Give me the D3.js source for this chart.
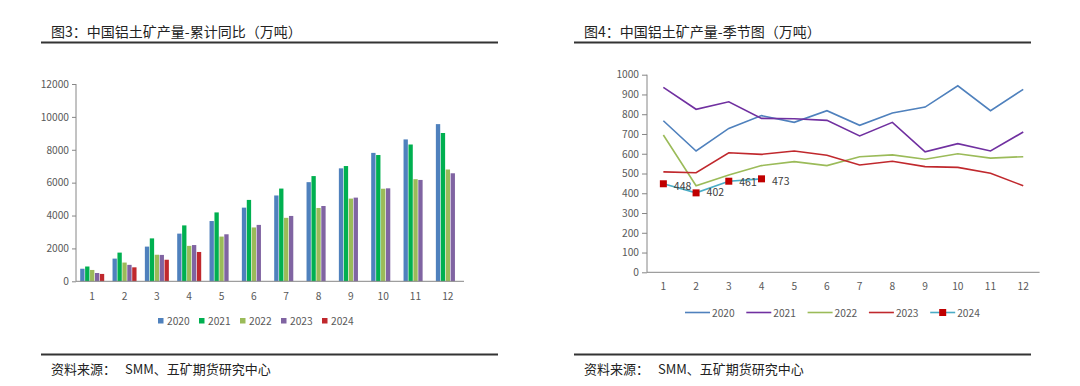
<!DOCTYPE html>
<html><head><meta charset="utf-8">
<script src="https://cdn.jsdelivr.net/npm/d3@7"></script>
<style>body{margin:0;background:#fff}svg{display:block}text{font-family:"Noto Sans CJK SC","Noto Sans",sans-serif}</style>
</head><body><svg id="c" width="1080" height="386"></svg>
<script>
const months = [1,2,3,4,5,6,7,8,9,10,11,12];
const years = ["2020","2021","2022","2023","2024"];
// cumulative (万吨)
const cum2020 = [765,1380,2110,2900,3665,4480,5220,6030,6870,7810,8630,9560];
const cum2021 = [900,1745,2610,3400,4190,4950,5640,6400,7010,7680,8320,9020];
const cum2022 = [690,1140,1615,2155,2720,3275,3860,4460,5030,5630,6210,6800];
const cum2023 = [505,1000,1605,2205,2860,3430,3975,4580,5090,5655,6165,6570];
const cum2024 = [448,850,1311,1784];
// monthly (万吨)
const mon2020 = [767,614,728,793,759,818,744,806,836,944,818,926];
const mon2021 = [936,825,863,779,777,769,690,759,610,651,614,710];
const mon2022 = [695,438,492,540,560,540,585,594,572,600,578,585];
const mon2023 = [508,504,605,597,614,592,543,562,535,531,501,438];
const mon2024 = [448,402,461,473];
const leftTicks = [0,2000,4000,6000,8000,10000,12000];
const rightTicks = [0,100,200,300,400,500,600,700,800,900,1000];

const barColors = ["#4F81BD","#00B050","#9BBB59","#8064A2","#C0282D"];
const lineColors = ["#4F81BD","#7030A0","#9BBB59","#C0282D","#4BACC6"];
const svg = d3.select("#c");
const txt = "#595959";
const numFont = "Liberation Sans, Arial, sans-serif";

// headers & footers
function frame(x0,x1,title,tx){
  svg.append("text").attr("x",tx).attr("y",36.5).attr("font-size",14).attr("fill","#222").text(title);
  svg.append("line").attr("x1",x0).attr("x2",x1).attr("y1",42.5).attr("y2",42.5).attr("stroke","#333").attr("stroke-width",2);
  svg.append("line").attr("x1",x0).attr("x2",x1).attr("y1",354.5).attr("y2",354.5).attr("stroke","#333").attr("stroke-width",2);
  svg.append("text").attr("x",tx).attr("y",374).attr("font-size",13).attr("fill","#222").text("资料来源：");
  svg.append("text").attr("x",tx+74).attr("y",374).attr("font-size",13).attr("fill","#222").text("SMM、五矿期货研究中心");
}
frame(41,498,"图3：中国铝土矿产量-累计同比（万吨）",51);
frame(574,1031,"图4：中国铝土矿产量-季节图（万吨）",584);

// LEFT bar chart
const lx = d3.scaleBand().domain(months).range([76,464]);
const ly = d3.scaleLinear().domain([0,12000]).range([281.3,84]);
const inner = d3.scaleBand().domain(years).range([0,24]).paddingInner(0.12);
const cums = [cum2020,cum2021,cum2022,cum2023,cum2024];
const gL = svg.append("g");
years.forEach((y,i)=>{
  gL.selectAll(null).data(cums[i]).enter().append("rect")
    .attr("x",(d,j)=>lx(months[j])+4.2+inner(y))
    .attr("y",d=>ly(d)).attr("width",inner.bandwidth()).attr("height",d=>ly(0)-ly(d))
    .attr("fill",barColors[i]);
});
const lyAx = gL.append("g").attr("transform","translate(76,0)").call(d3.axisLeft(ly).tickValues(leftTicks).tickSize(4).tickFormat(d3.format("d")));
const lxAx = gL.append("g").attr("transform","translate(0,281.3)").call(d3.axisBottom(lx).tickSize(0).tickPadding(11));
[lyAx,lxAx].forEach(a=>{a.selectAll("path,line").attr("stroke","#868686");a.selectAll("text").attr("fill",txt).attr("font-size",10.2).attr("font-family",numFont);});
lyAx.select(".domain").attr("d","M0,84V281.3");
lxAx.select(".domain").attr("d","M76,0H464");
// left legend
const lg = svg.append("g");
years.forEach((y,i)=>{
  const x = 158 + i*41;
  lg.append("rect").attr("x",x).attr("y",318).attr("width",5.5).attr("height",5.5).attr("fill",barColors[i]);
  lg.append("text").attr("x",x+9).attr("y",325).attr("font-size",10.2).attr("fill",txt).attr("font-family",numFont).text(y);
});

// RIGHT line chart
const rx = d3.scaleBand().domain(months).range([647,1039.6]);
const ry = d3.scaleLinear().domain([0,1000]).range([272.3,74.7]);
const mons = [mon2020,mon2021,mon2022,mon2023,mon2024];
const gR = svg.append("g");
const ryAx = gR.append("g").attr("transform","translate(647,0)").call(d3.axisLeft(ry).tickValues(rightTicks).tickSize(5).tickFormat(d3.format("d")));
const rxAx = gR.append("g").attr("transform","translate(0,272.3)").call(d3.axisBottom(rx).tickSize(0).tickPadding(10));
[ryAx,rxAx].forEach(a=>{a.selectAll("path,line").attr("stroke","#868686");a.selectAll("text").attr("fill",txt).attr("font-size",10.2).attr("font-family",numFont);});
ryAx.select(".domain").attr("d","M0,74.7V272.3");
rxAx.select(".domain").attr("d","M647,0H1039.6");
const line = d3.line().x((d,j)=>rx(months[j])+rx.bandwidth()/2).y(d=>ry(d));
mons.forEach((m,i)=>{
  gR.append("path").datum(m).attr("d",line).attr("fill","none").attr("stroke",lineColors[i]).attr("stroke-width",1.6);
});
gR.selectAll(null).data(mon2024).enter().append("rect")
  .attr("x",(d,j)=>rx(months[j])+rx.bandwidth()/2-3.5).attr("y",d=>ry(d)-3.5).attr("width",7).attr("height",7).attr("fill","#C00000");
gR.selectAll(null).data(mon2024).enter().append("text")
  .attr("x",(d,j)=>rx(months[j])+rx.bandwidth()/2+10.5).attr("y",(d,j)=>ry(d)+[2,-1,1,2][j]+4)
  .attr("font-size",10.5).attr("fill","#404040").attr("font-family",numFont).text(d=>d);
// right legend
const rg = svg.append("g");
years.forEach((y,i)=>{
  const x = 685 + i*61.3;
  rg.append("line").attr("x1",x).attr("x2",x+25).attr("y1",312.5).attr("y2",312.5).attr("stroke",lineColors[i]).attr("stroke-width",1.6);
  if(i===4) rg.append("rect").attr("x",x+9).attr("y",309).attr("width",7).attr("height",7).attr("fill","#C00000");
  rg.append("text").attr("x",x+27).attr("y",316.5).attr("font-size",10.2).attr("fill",txt).attr("font-family",numFont).text(y);
});
</script></body></html>
